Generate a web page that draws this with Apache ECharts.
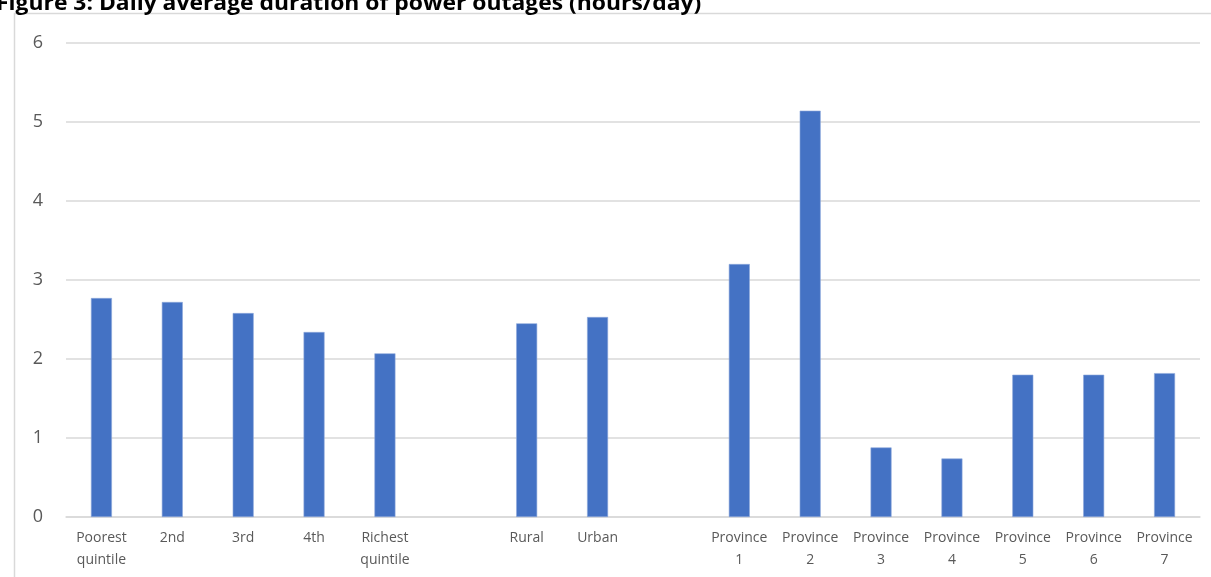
<!DOCTYPE html>
<html>
<head>
<meta charset="utf-8">
<script src="https://cdn.jsdelivr.net/npm/echarts@6/dist/echarts.min.js"></script>
<style>
  html, body { margin: 0; padding: 0; background: #ffffff; }
  #chart { width: 1211px; height: 577px; }
</style>
</head>
<body>
<div id="chart"></div>
<script>
// Groups are separated by an empty category slot.
const categories = [
  'Poorest\nquintile', '2nd', '3rd', '4th', 'Richest\nquintile', '',
  'Rural', 'Urban', '',
  'Province\n1', 'Province\n2', 'Province\n3', 'Province\n4',
  'Province\n5', 'Province\n6', 'Province\n7'
];
// Daily average duration of power outages, hours per day.
const outageHours = [
  2.77, 2.72, 2.58, 2.34, 2.07, null,
  2.45, 2.53, null,
  3.20, 5.14, 0.88, 0.74, 1.80, 1.80, 1.82
];
const yTicks = { min: 0, max: 6, interval: 1 };
const titleText = 'Figure 3: Daily average duration of power outages (hours/day)';

const chart = echarts.init(document.getElementById('chart'), null, { renderer: 'canvas' });
chart.setOption({
  animation: false,
  backgroundColor: '#ffffff',
  graphic: [
    {
      type: 'rect',
      shape: { x: 14.5, y: 13.5, width: 1240, height: 600 },
      style: { fill: 'none', stroke: '#d9d9d9', lineWidth: 1.5 },
      z: 0
    },
    {
      type: 'text',
      x: -4, y: -7,
      scaleX: 1.04,
      style: {
        text: titleText,
        font: 'bold 22px "Open Sans", "Liberation Sans", sans-serif',
        fill: '#000000'
      },
      z: 10
    }
  ],
  grid: { left: 66, right: 11, top: 42.7, bottom: 60, containLabel: false },
  xAxis: {
    type: 'category',
    data: categories,
    axisLine: { show: true, lineStyle: { color: '#d9d9d9', width: 1.5 } },
    axisTick: { show: false },
    axisLabel: {
      interval: 0,
      margin: 10,
      color: '#595959',
      fontSize: 14,
      lineHeight: 22,
      fontFamily: '"Open Sans", "Liberation Sans", sans-serif'
    }
  },
  yAxis: {
    type: 'value',
    min: yTicks.min, max: yTicks.max, interval: yTicks.interval,
    axisLine: { show: false },
    axisTick: { show: false },
    splitLine: { lineStyle: { color: '#d9d9d9', width: 1.5 } },
    axisLabel: {
      margin: 23,
      color: '#595959',
      fontSize: 18,
      fontFamily: '"Open Sans", "Liberation Sans", sans-serif'
    }
  },
  series: [{
    type: 'bar',
    data: outageHours,
    barWidth: 21,
    itemStyle: { color: '#4472c4', borderColor: '#8eaadb', borderWidth: 0.6 }
  }]
});
</script>
</body>
</html>
